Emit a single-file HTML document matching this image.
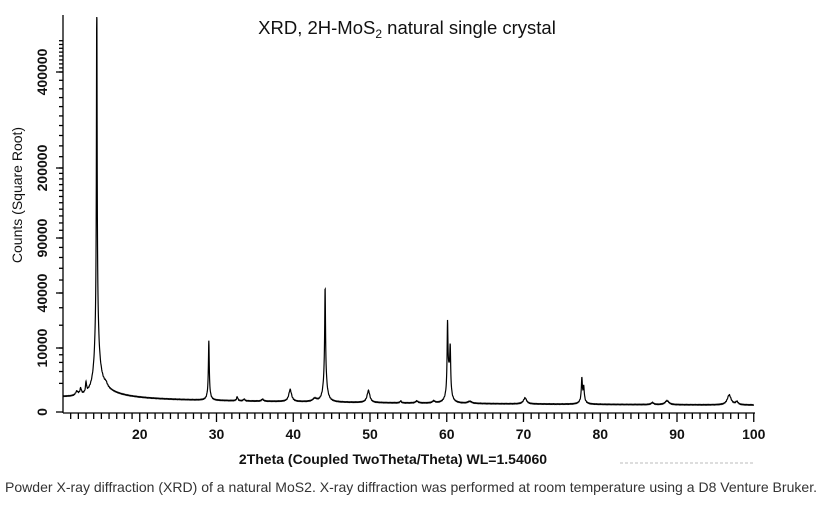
<!DOCTYPE html>
<html><head><meta charset="utf-8"><style>
html,body{margin:0;padding:0;background:#fff;width:833px;height:510px;overflow:hidden}
svg{display:block}
</style></head><body>
<svg id="s" width="833" height="510" xmlns="http://www.w3.org/2000/svg" font-family="Liberation Sans, Arial, sans-serif">
<text x="407" y="34" font-size="18.5" text-anchor="middle" fill="#111">XRD, 2H-MoS<tspan font-size="12" dy="4">2</tspan><tspan dy="-4"> natural single crystal</tspan></text>
<text transform="translate(22,195) rotate(-90)" font-size="14" text-anchor="middle" fill="#111">Counts (Square Root)</text>
<text x="393" y="464" font-size="14" font-weight="bold" text-anchor="middle" fill="#111">2Theta (Coupled TwoTheta/Theta) WL=1.54060</text>
<text x="5" y="492" font-size="13.8" fill="#333" textLength="812" lengthAdjust="spacingAndGlyphs">Powder X-ray diffraction (XRD) of a natural MoS2. X-ray diffraction was performed at room temperature using a D8 Venture Bruker.</text>
<line x1="620" y1="463" x2="755" y2="463" stroke="#bbb" stroke-width="1" stroke-dasharray="3,2"/>
<g id="ax" stroke="#000" stroke-width="1.3" fill="none"></g>
<g id="lb" font-size="14" font-weight="bold" fill="#111" text-anchor="middle"></g>
<path id="p" stroke="#000" stroke-width="1.2" fill="none"/>
</svg>
<script>
var NS="http://www.w3.org/2000/svg";
var ax=document.getElementById('ax'),lb=document.getElementById('lb');
function L(x1,y1,x2,y2){var l=document.createElementNS(NS,'line');l.setAttribute('x1',x1);l.setAttribute('y1',y1);l.setAttribute('x2',x2);l.setAttribute('y2',y2);ax.appendChild(l);}
function T(x,y,s,rot){var t=document.createElementNS(NS,'text');if(rot){t.setAttribute('transform','translate('+x+','+y+') rotate(-90)');}else{t.setAttribute('x',x);t.setAttribute('y',y);}t.textContent=s;lb.appendChild(t);}
var X=function(t){return 63+(t-10)*7.675;};
L(63,15,63,413);L(63,413,755,413);
for(var t=11;t<=100;t++){var maj=t%10==0;L(X(t),413,X(t),maj?422:419);if(maj)T(X(t),439,String(t));}
var vals=[0,10000,40000,90000,200000,400000],pos=[412,348,293,238,168,72];
function Y(v){var s=Math.sqrt(v);for(var i=0;i<vals.length-1;i++){var a=Math.sqrt(vals[i]),b=Math.sqrt(vals[i+1]);if(s<=b||i==vals.length-2){return pos[i]+(s-a)/(b-a)*(pos[i+1]-pos[i]);}}}
function mt(a,b,st){for(var v=a;v<b;v+=st){var y=Y(v);L(59,y,63,y);}}
mt(2000,10000,2000);mt(10000,40000,10000);mt(40000,90000,10000);mt(90000,200000,10000);mt(200000,400000,20000);mt(400000,490000,10000);
for(var i=0;i<vals.length;i++){L(56,pos[i],63,pos[i]);T(47,pos[i],String(vals[i]),true);}
var pk=[[14.4,330,0.05],[14.4,70,0.25],[14.4,15,0.8],[11.8,4,0.2],[12.3,6,0.12],[13.0,10,0.08],[15.6,3,0.2],
[29.0,50,0.06],[29.0,10,0.2],[32.7,4,0.1],[33.6,2,0.1],[36.0,2,0.15],[39.6,12,0.22],[42.8,3,0.3],[44.15,85,0.06],[44.15,30,0.25],
[49.8,12,0.22],[54,2,0.1],[56.1,2,0.2],[58.3,2,0.2],[60.1,60,0.06],[60.45,40,0.07],[60.25,30,0.25],[63,2,0.3],
[70.2,6,0.25],[77.6,20,0.07],[77.85,12,0.08],[77.7,7,0.3],[86.8,2,0.2],[88.7,4,0.3],[96.8,10,0.3],[97.8,3,0.2]];
var d='';
for(var t=10;t<=100.001;t+=0.02){var h=7+9*Math.exp(-(t-10)/40);if(t>14.4)h+=10*Math.exp(-(t-14.4)/3);
for(var j=0;j<pk.length;j++){var q=(t-pk[j][0])/pk[j][2];h+=pk[j][1]/(1+q*q);}
h+=Math.sin(t*37)*0.4;var y=413-h;if(y<17)y=17;d+=(d?'L':'M')+X(t).toFixed(2)+','+y.toFixed(2);}
document.getElementById('p').setAttribute('d',d);
</script>
</body></html>
